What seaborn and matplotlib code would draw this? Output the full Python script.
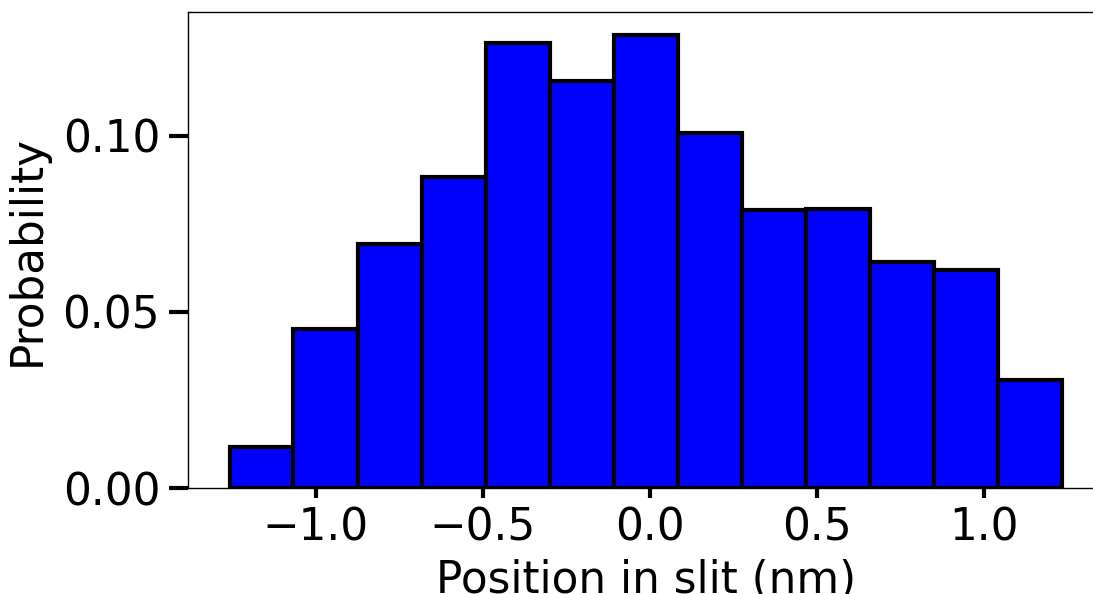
import numpy as np
import pandas as pd
import seaborn as sns
from matplotlib import pyplot as plt

# Histogram bins (position in nm, probability per bin)
bin_edges = [-1.257, -1.066, -0.874, -0.683, -0.491, -0.299, -0.108,
             0.084, 0.275, 0.467, 0.659, 0.850, 1.042, 1.234]
probabilities = [0.0117, 0.0452, 0.0693, 0.0884, 0.1264, 0.1156, 0.1287,
                 0.1009, 0.0790, 0.0793, 0.0642, 0.0619, 0.0307]
x_ticks = [-1.0, -0.5, 0.0, 0.5, 1.0]
y_ticks = [0.00, 0.05, 0.10]

if __name__ == "__main__":
    centers = [(a + b) / 2 for a, b in zip(bin_edges[:-1], bin_edges[1:])]
    df = pd.DataFrame({"position": centers, "prob": probabilities})

    sns.set_style("ticks")
    plt.rcParams['font.family'] = ['DejaVu Sans']
    plt.rcParams.update({
        "text.color": "black",
        "axes.labelcolor": "black",
        "axes.edgecolor": "black",
        "xtick.color": "black",
        "ytick.color": "black",
    })

    fig = plt.figure(figsize=(10.93, 5.94), dpi=100)
    ax = fig.add_axes([188 / 1093, 1 - 488 / 594, 916 / 1093, 476 / 594])

    sns.histplot(df, x="position", weights="prob", bins=bin_edges,
                 color="#0000ff", edgecolor="black", linewidth=3,
                 alpha=1.0, ax=ax)

    ax.set_xticks(x_ticks)
    ax.set_yticks(y_ticks)
    ax.set_yticklabels([f"{v:.2f}" for v in y_ticks])
    ax.tick_params(axis="both", labelsize=31.5, width=3, pad=6)
    ax.tick_params(axis="x", length=7)
    ax.tick_params(axis="y", length=14)
    for s in ax.spines.values():
        s.set_linewidth(1.0)

    ax.set_xlabel("Position in slit (nm)", fontsize=31.5, labelpad=7)
    ax.set_ylabel("Probability", fontsize=31.5, labelpad=10)

    fig.savefig("out.png", dpi=100)
